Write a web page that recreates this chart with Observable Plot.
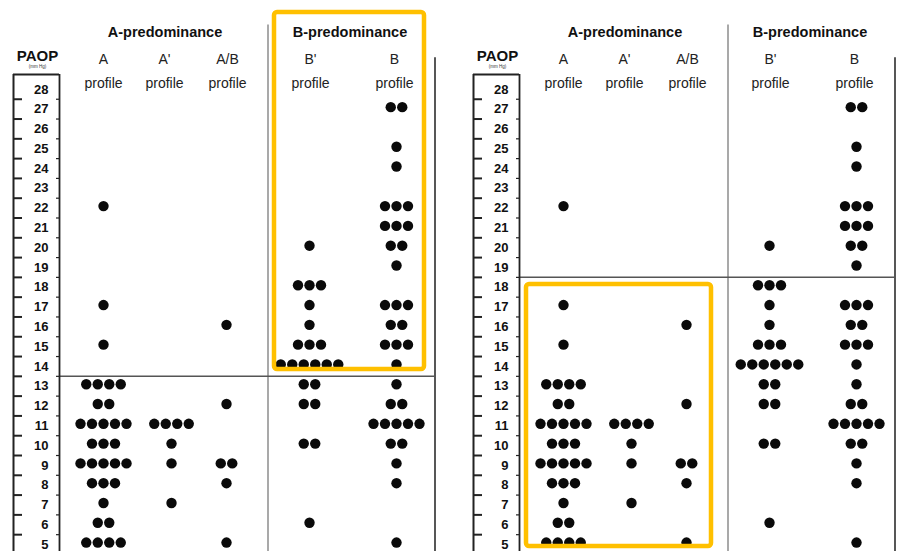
<!DOCTYPE html>
<html><head><meta charset="utf-8">
<script src="https://cdn.jsdelivr.net/npm/d3@7"></script>
<script src="https://cdn.jsdelivr.net/npm/@observablehq/plot@0.6"></script>
<style>
html,body{margin:0;padding:0;background:#fff;}
#chart{display:flex;width:897px;height:551px;overflow:hidden;}
#chart svg{display:block;flex:none;}
#chart [aria-label="y-axis tick label"]{font-weight:bold;}
</style></head><body><div id="chart"></div>
<script>
// ---------------- DATA ----------------
const profiles = ["A", "A'", "A/B", "B'", "B"];
const groups = ["A-predominance", "B-predominance"];
// PAOP (mm Hg) of each patient, one value per dot
const paopA  = [22,17,15,13,13,13,13,12,12,11,11,11,11,11,10,10,10,9,9,9,9,9,8,8,8,7,6,6,5,5,5,5];
const paopA1 = [11,11,11,11,10,9,7];
const paopAB = [16,12,9,9,8,5];
const paopB1 = [20,18,18,18,17,16,15,15,15,14,14,14,14,14,14,13,13,12,12,10,10,6];
const paopB  = [27,27,25,24,22,22,22,21,21,21,20,20,19,17,17,17,16,16,15,15,15,14,13,12,12,11,11,11,11,11,10,10,9,8,5];
const yTickLabels = [5,6,7,8,9,10,11,12,13,14,15,16,17,18,19,20,21,22,23,24,25,26,27,28];
const yUnit = "PAOP";
const yUnitSub = "(mm Hg)";
const cutoffs = [13.5, 18.5]; // separator of left panel, right panel

// ---------------- LAYOUT ----------------
const colX = [103, 171, 226, 309, 396];   // column centres (x units)
const labelX = [103, 164, 227, 310, 394]; // column heading centres
const gap = 11.5;                          // dot spacing within a row
const yMin = 4.65, yMax = 28.75;
const valuesByProfile = [paopA, paopA1, paopAB, paopB1, paopB];
const points = [];
profiles.forEach((p, k) => {
  const counts = d3.rollup(valuesByProfile[k], v => v.length, d => d);
  for (const [v, n] of counts)
    for (let i = 0; i < n; i++)
      points.push({profile: p, paop: v, x: colX[k] + (i - (n - 1) / 2) * gap});
});
const halfTicks = d3.range(5.5, 28, 1);
const groupX = [(colX[0] + colX[2]) / 2, (colX[3] + colX[4]) / 2 - 3];
const divX = (colX[2] + colX[3]) / 2;
const rightX = 434.5;

function panel({width, cutoff, box}) {
  return Plot.plot({
    width, height: 551,
    marginTop: 74, marginBottom: 0, marginLeft: 59, marginRight: 0,
    x: {domain: [59, width], range: [59, width], axis: null},
    y: {domain: [yMin, yMax], axis: null},
    style: {fontFamily: "'Liberation Sans', Arial, sans-serif", color: "#111", background: "#fff", overflow: "visible"},
    marks: [
      // group divider and right border
      Plot.ruleX([divX], {y1: yMin, y2: 31.25, stroke: "#8c8c8c", strokeWidth: 1.5}),
      Plot.ruleX([rightX], {y1: yMin, y2: 29.6, stroke: "#444", strokeWidth: 1.8}),
      // cut-off separator
      Plot.ruleY([cutoff], {x1: 59, x2: rightX, stroke: "#555", strokeWidth: 1.5}),
      // y axis box
      Plot.ruleX([13], {y1: yMin, y2: yMax, stroke: "#222", strokeWidth: 2}),
      Plot.ruleX([59], {y1: yMin, y2: yMax, stroke: "#222", strokeWidth: 1.8}),
      Plot.ruleY([yMax], {x1: 13, x2: 59, stroke: "#222", strokeWidth: 2}),
      Plot.ruleY(halfTicks, {x1: 13, x2: 22, stroke: "#222", strokeWidth: 2}),
      Plot.ruleY(halfTicks, {x1: 56, x2: 59, stroke: "#222", strokeWidth: 1.2}),
      Plot.axisY(yTickLabels, {anchor: "left", tickSize: 0, tickPadding: 11, fontSize: 13, fontWeight: "bold", label: null, fill: "#111"}),
      // titles
      Plot.text([yUnit], {x: 37, frameAnchor: "top", lineAnchor: "bottom", dy: -14, fontWeight: "bold", fontSize: 15, fill: "#111"}),
      Plot.text([yUnitSub], {x: 37, frameAnchor: "top", lineAnchor: "middle", dy: -8, fontSize: 4.5, fill: "#333"}),
      Plot.text(groups, {x: (d, i) => groupX[i], text: d => d, frameAnchor: "top", lineAnchor: "bottom", dy: -38, fontWeight: "bold", fontSize: 14.5, fill: "#111"}),
      Plot.text(profiles, {x: (d, i) => labelX[i], text: d => d + "\nprofile", frameAnchor: "top", lineAnchor: "top", dy: -27, fontSize: 14, lineHeight: 1.71, fill: "#222"}),
      // dots
      Plot.dot(points, {x: "x", y: "paop", r: 5.2, fill: "#0a0a0a", dy: -2}),
      // highlight box
      Plot.rect([box], {x1: "x1", x2: "x2", y1: "y1", y2: "y2", fill: "none", stroke: "#FFC000", strokeWidth: 4.5, rx: 3})
    ]
  });
}

const chart = document.getElementById("chart");
chart.append(panel({width: 460, cutoff: cutoffs[0], box: {x1: 274, x2: 424, y1: 13.84, y2: 31.88}}));
chart.append(panel({width: 437, cutoff: cutoffs[1], box: {x1: 66, x2: 251, y1: 4.9, y2: 18.14}}));
</script>
</body></html>
